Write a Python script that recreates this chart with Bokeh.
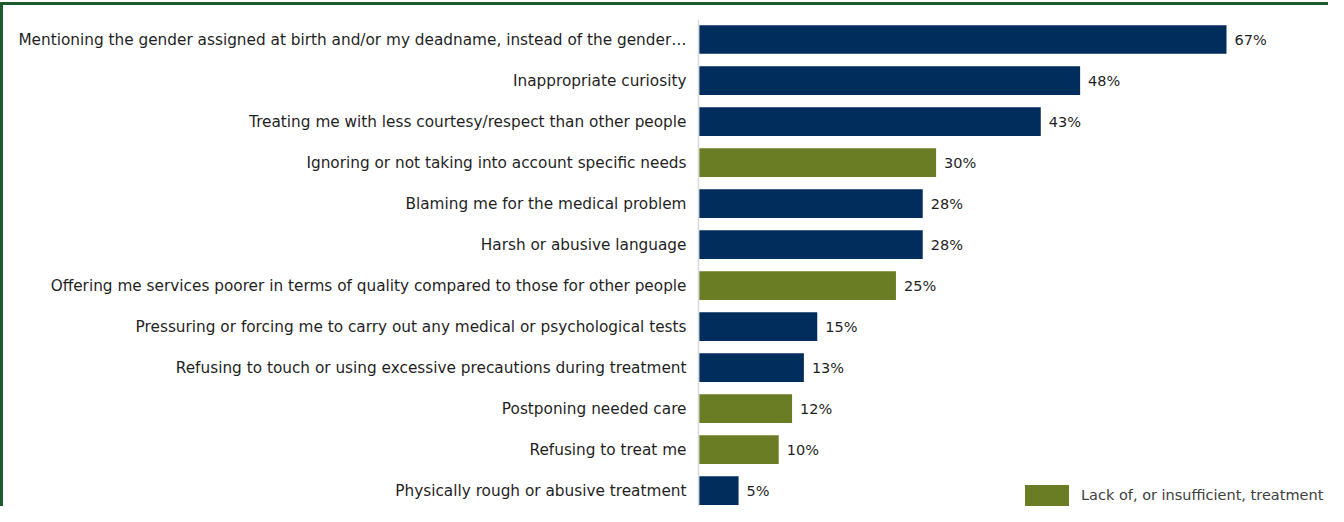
from bokeh.plotting import figure
from bokeh.models import ColumnDataSource, Range1d, FixedTicker, LabelSet, Legend, LegendItem
from bokeh.core.properties import value
from bokeh.embed import file_html
from bokeh.resources import INLINE

categories = [
    "Mentioning the gender assigned at birth and/or my deadname, instead of the gender\u2026",
    "Inappropriate curiosity",
    "Treating me with less courtesy/respect than other people",
    "Ignoring or not taking into account specific needs",
    "Blaming me for the medical problem",
    "Harsh or abusive language",
    "Offering me services poorer in terms of quality compared to those for other people",
    "Pressuring or forcing me to carry out any medical or psychological tests",
    "Refusing to touch or using excessive precautions during treatment",
    "Postponing needed care",
    "Refusing to treat me",
    "Physically rough or abusive treatment",
]
values = [67.0, 48.4, 43.4, 30.1, 28.4, 28.4, 25.0, 15.0, 13.3, 11.8, 10.1, 5.0]
value_labels = ["67%", "48%", "43%", "30%", "28%", "28%", "25%", "15%", "13%", "12%", "10%", "5%"]
lack_of_treatment = [False, False, False, True, False, False, True, False, False, True, True, False]
legend_label = "Lack of, or insufficient, treatment"

NAVY = "#002D5C"
OLIVE = "#6A7D24"
FONT = "DejaVu Sans"
TEXT = "#1f1f1f"

n = len(categories)
ypos = [n - 1 - i for i in range(n)]


def subset(flag):
    idx = [i for i in range(n) if lack_of_treatment[i] == flag]
    return ColumnDataSource(dict(
        y=[ypos[i] for i in idx],
        v=[values[i] for i in idx],
        lab=[value_labels[i] for i in idx],
    ))


src_main = subset(False)
src_lack = subset(True)
src_all = ColumnDataSource(dict(y=ypos, v=values, lab=value_labels))

p = figure(
    width=1328, height=506,
    x_range=Range1d(-0.09, 79.96),
    y_range=Range1d(-0.3846, 11.4876),
    output_backend="svg", toolbar_location=None,
    min_border_left=698, min_border_right=0,
    min_border_top=19, min_border_bottom=0,
)
p.border_fill_color = None
p.background_fill_color = None
p.outline_line_color = None
p.styles = {"box-shadow": "inset 0 2px 0 #ffffff, inset 0 5px 0 #1e5a30, inset 3px 0 0 #1e5a30"}

r_main = p.hbar(y="y", right="v", left=0, height=0.70, source=src_main,
                fill_color=NAVY, line_color=None)
r_lack = p.hbar(y="y", right="v", left=0, height=0.70, source=src_lack,
                fill_color=OLIVE, line_color=None)

labels = LabelSet(x="v", y="y", text="lab", source=src_all, x_offset=8,
                  text_baseline="middle", text_align="left",
                  text_font=value(FONT), text_font_size="14.5px", text_color=TEXT)
p.add_layout(labels)

p.xaxis.visible = False
p.xgrid.visible = False
p.ygrid.visible = False

yax = p.yaxis[0]
yax.ticker = FixedTicker(ticks=ypos)
yax.major_label_overrides = {ypos[i]: categories[i] for i in range(n)}
yax.major_tick_line_color = None
yax.minor_tick_line_color = None
yax.major_tick_out = 0
yax.major_tick_in = 0
yax.major_label_standoff = 12
yax.axis_line_color = "#d9d9d9"
yax.axis_line_width = 1.5
yax.major_label_text_font = FONT
yax.major_label_text_font_size = "15.3px"
yax.major_label_text_color = TEXT

legend = Legend(
    items=[LegendItem(label=legend_label, renderers=[r_lack])],
    location=(321, -2),
    padding=0, margin=0, spacing=0,
    glyph_width=55, glyph_height=26, label_standoff=7,
    border_line_color=None, background_fill_alpha=0,
    label_text_font=FONT, label_text_font_size="14.5px", label_text_color="#404040",
)
p.add_layout(legend)

open("out.html", "w").write(file_html(p, INLINE))
